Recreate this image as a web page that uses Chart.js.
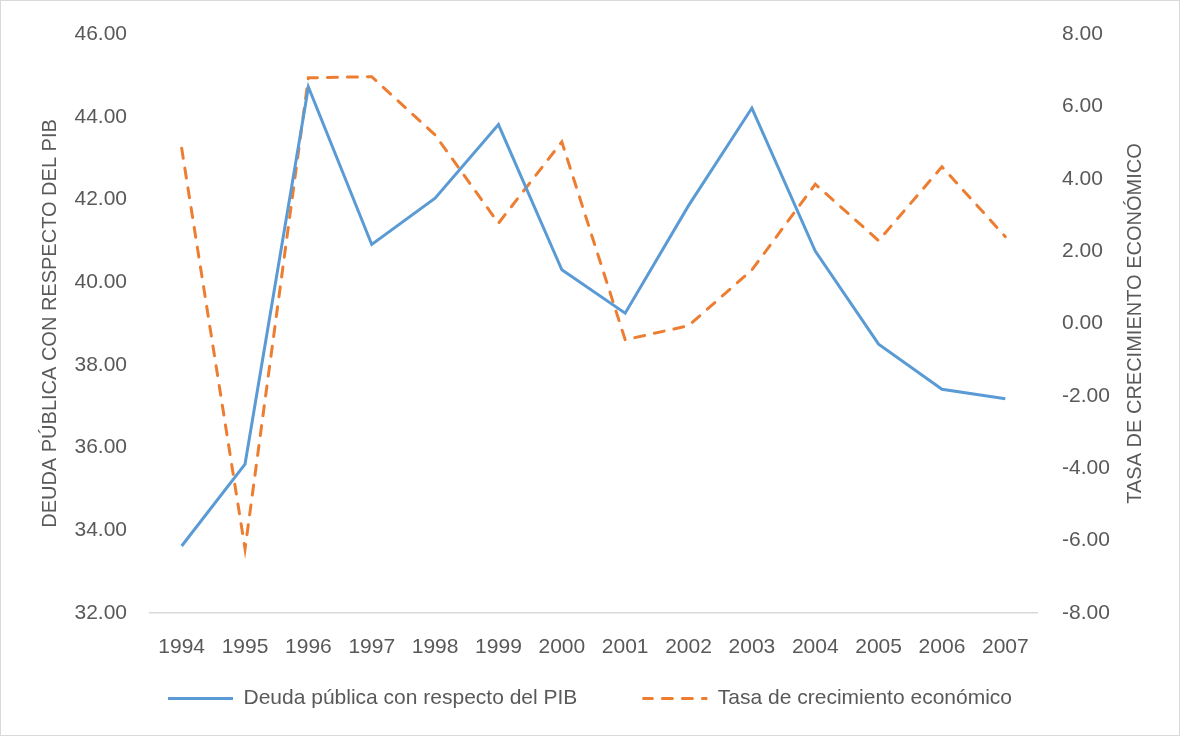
<!DOCTYPE html>
<html lang="es">
<head>
    <meta charset="UTF-8">
    <title>Deuda pública y crecimiento económico</title>
    <script src="https://cdn.jsdelivr.net/npm/chart.js"></script>
    <style>
        body { margin: 0; background: #fff; }
        .wrap { position: relative; width: 1180px; height: 736px; }
        .frame { position: absolute; left: 0; top: 0; width: 1180px; height: 736px; box-sizing: border-box; border: 1px solid #d9d9d9; pointer-events: none; }
    </style>
</head>
<body>
    <div class="wrap">
        <canvas id="chart" width="1180" height="736"></canvas>
        <div class="frame"></div>
    </div>

    <script>
        const years = ['1994', '1995', '1996', '1997', '1998', '1999', '2000', '2001', '2002', '2003', '2004', '2005', '2006', '2007'];
        const deudaPIB = [33.62, 35.60, 44.72, 40.91, 42.03, 43.81, 40.30, 39.25, 41.85, 44.21, 40.75, 38.50, 37.41, 37.18];
        const crecimiento = [4.84, -6.23, 6.79, 6.82, 5.21, 2.77, 5.02, -0.45, -0.06, 1.48, 3.85, 2.29, 4.33, 2.40];

        const leftTitle = 'DEUDA PÚBLICA CON RESPECTO DEL PIB';
        const rightTitle = 'TASA DE CRECIMIENTO ECONÓMICO';

        const textColor = '#595959';
        const fontFamily = '"Liberation Sans", Arial, sans-serif';

        // right axis title reads bottom-to-top, like the left one
        const rightTitlePlugin = {
            id: 'rightTitle',
            afterDraw(chart) {
                const ctx = chart.ctx;
                const area = chart.chartArea;
                ctx.save();
                ctx.translate(1135, (area.top + area.bottom) / 2);
                ctx.rotate(-Math.PI / 2);
                ctx.font = '20px ' + fontFamily;
                ctx.fillStyle = textColor;
                ctx.textAlign = 'center';
                ctx.textBaseline = 'middle';
                ctx.fillText(rightTitle, 0, 0);
                ctx.restore();
            }
        };

        new Chart(document.getElementById('chart'), {
            type: 'line',
            data: {
                labels: years,
                datasets: [{
                    label: 'Deuda pública con respecto del PIB',
                    data: deudaPIB,
                    yAxisID: 'y',
                    borderColor: '#5B9BD5',
                    backgroundColor: '#5B9BD5',
                    borderWidth: 3,
                    pointRadius: 0,
                    tension: 0
                }, {
                    label: 'Tasa de crecimiento económico',
                    data: crecimiento,
                    yAxisID: 'y1',
                    borderColor: '#ED7D31',
                    backgroundColor: '#ED7D31',
                    borderWidth: 3,
                    borderDash: [10, 10],
                    borderCapStyle: 'round',
                    pointRadius: 0,
                    tension: 0
                }]
            },
            options: {
                responsive: false,
                animation: false,
                layout: { padding: { top: 34, bottom: 17, left: 0, right: 0 } },
                plugins: {
                    tooltip: { enabled: false },
                    legend: {
                        position: 'bottom',
                        labels: {
                            // flat box so the dash pattern shows like a line sample
                            boxWidth: 65,
                            boxHeight: 0,
                            padding: 65,
                            color: textColor,
                            font: { family: fontFamily, size: 21 }
                        }
                    }
                },
                scales: {
                    x: {
                        offset: true,
                        grid: { display: false, drawTicks: false },
                        border: { display: true, color: '#d9d9d9', width: 1.5 },
                        // mirror keeps the labels from being clipped to the thin axis box
                        ticks: { mirror: true, color: textColor, padding: -47, font: { family: fontFamily, size: 21 } },
                        afterFit(scale) { scale.height = 10; }
                    },
                    y: {
                        position: 'left',
                        min: 32,
                        max: 46,
                        // hidden tick length spaces the labels without adding top padding
                        grid: { display: false, drawTicks: true, tickLength: 23 },
                        border: { display: false },
                        ticks: {
                            stepSize: 2,
                            padding: 0,
                            color: textColor,
                            font: { family: fontFamily, size: 21 },
                            callback: v => v.toFixed(2)
                        },
                        title: {
                            display: true,
                            text: leftTitle,
                            color: textColor,
                            padding: { top: 38, bottom: 0 },
                            font: { family: fontFamily, size: 20 }
                        },
                        afterFit(scale) { scale.width = 150; }
                    },
                    y1: {
                        position: 'right',
                        min: -8,
                        max: 8,
                        grid: { display: false, drawTicks: true, tickLength: 25 },
                        border: { display: false },
                        ticks: {
                            stepSize: 2,
                            padding: 0,
                            color: textColor,
                            font: { family: fontFamily, size: 21 },
                            callback: v => v.toFixed(2)
                        },
                        afterFit(scale) { scale.width = 143; }
                    }
                }
            },
            plugins: [rightTitlePlugin]
        });
    </script>
</body>
</html>
